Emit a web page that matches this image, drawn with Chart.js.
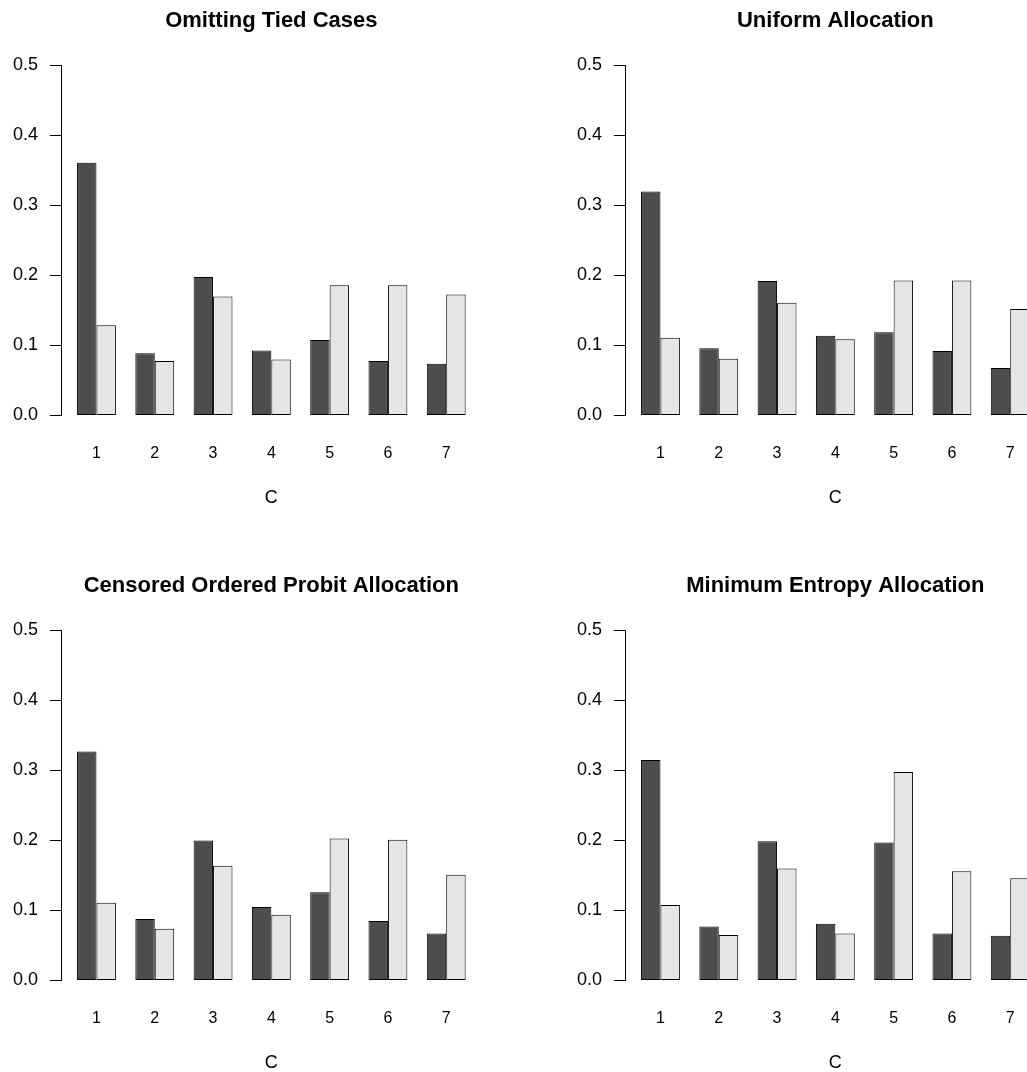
<!DOCTYPE html>
<html>
<head>
<meta charset="utf-8">
<script src="https://cdn.jsdelivr.net/npm/chart.js@4.4.1/dist/chart.umd.min.js"></script>
<style>
  html, body { margin: 0; padding: 0; background: #fff; overflow: hidden; }
  body { width: 1027px; height: 1072px; position: relative; }
  canvas { position: absolute; }
</style>
</head>
<body>
<canvas id="p1" width="520" height="540" style="left:0px;top:0px"></canvas>
<canvas id="p2" width="520" height="540" style="left:564px;top:0px"></canvas>
<canvas id="p3" width="520" height="540" style="left:0px;top:565px"></canvas>
<canvas id="p4" width="520" height="540" style="left:564px;top:565px"></canvas>
<script>
const categories = ['1', '2', '3', '4', '5', '6', '7'];
const yTicks = [0, 0.1, 0.2, 0.3, 0.4, 0.5];
const xLabel = 'C';

const titles = [
  'Omitting Tied Cases',
  'Uniform Allocation',
  'Censored Ordered Probit Allocation',
  'Minimum Entropy Allocation'
];

// dark = first bar of each pair, light = second
const omittedDark  = [0.361, 0.089, 0.198, 0.093, 0.108, 0.078, 0.074];
const omittedLight = [0.129, 0.078, 0.170, 0.080, 0.186, 0.186, 0.173];
const uniformDark  = [0.320, 0.096, 0.192, 0.114, 0.119, 0.092, 0.068];
const uniformLight = [0.111, 0.081, 0.161, 0.109, 0.193, 0.193, 0.152];
const probitDark   = [0.327, 0.088, 0.200, 0.105, 0.126, 0.085, 0.067];
const probitLight  = [0.111, 0.074, 0.164, 0.094, 0.203, 0.201, 0.151];
const entropyDark  = [0.315, 0.077, 0.199, 0.081, 0.197, 0.067, 0.064];
const entropyLight = [0.108, 0.065, 0.160, 0.067, 0.298, 0.156, 0.146];

Chart.defaults.font.family = '"Liberation Sans", Arial, Helvetica, sans-serif';
Chart.defaults.color = '#000';

const toPoints = (values) => values.map((v, i) => ({ x: i + 1, y: v }));

function drawPanel(canvasId, title, dark, light) {
    const ctx = document.getElementById(canvasId).getContext('2d');
    return new Chart(ctx, {
        type: 'bar',
        data: {
            datasets: [{
                data: toPoints(dark),
                backgroundColor: '#4d4d4d',
                borderColor: '#000',
                borderWidth: 1,
                borderSkipped: false
            }, {
                data: toPoints(light),
                backgroundColor: '#e5e5e5',
                borderColor: '#000',
                borderWidth: 1,
                borderSkipped: false
            }]
        },
        options: {
            responsive: false,
            animation: false,
            categoryPercentage: 2 / 3,
            barPercentage: 1,
            layout: {
                padding: { left: 0, right: 38.8, top: 0, bottom: 0 }
            },
            plugins: {
                legend: { display: false },
                tooltip: { enabled: false },
                title: {
                    display: true,
                    text: title,
                    fullSize: false,
                    font: { size: 22, weight: 'bold' },
                    padding: { top: 8, bottom: 31.1 }
                }
            },
            scales: {
                x: {
                    type: 'linear',
                    offset: false,
                    min: 0.4,
                    max: 7.6,
                    afterBuildTicks: (scale) => {
                        scale.ticks = categories.map((c, i) => ({ value: i + 1 }));
                    },
                    afterFit: (scale) => { scale.height = 124.5; },
                    grid: { display: false, drawTicks: false, offset: false },
                    border: { display: false },
                    ticks: {
                        font: { size: 16 },
                        padding: 28,
                        maxRotation: 0,
                        autoSkip: false,
                        callback: (value, index) => categories[index]
                    },
                    title: {
                        display: true,
                        text: xLabel,
                        font: { size: 18 },
                        padding: { top: 0, bottom: 31.2 }
                    }
                },
                y: {
                    min: 0,
                    max: 0.5,
                    afterBuildTicks: (scale) => {
                        scale.ticks = yTicks.map((v) => ({ value: v }));
                    },
                    afterFit: (scale) => { scale.width = 61.5; },
                    grid: {
                        drawOnChartArea: false,
                        drawTicks: true,
                        tickLength: 11.7,
                        color: '#000',
                        lineWidth: 1
                    },
                    border: { display: true, color: '#000', width: 1 },
                    ticks: {
                        font: { size: 18 },
                        padding: 11.8,
                        callback: (value) => value.toFixed(1)
                    }
                }
            }
        }
    });
}

drawPanel('p1', titles[0], omittedDark, omittedLight);
drawPanel('p2', titles[1], uniformDark, uniformLight);
drawPanel('p3', titles[2], probitDark, probitLight);
drawPanel('p4', titles[3], entropyDark, entropyLight);
</script>
</body>
</html>
